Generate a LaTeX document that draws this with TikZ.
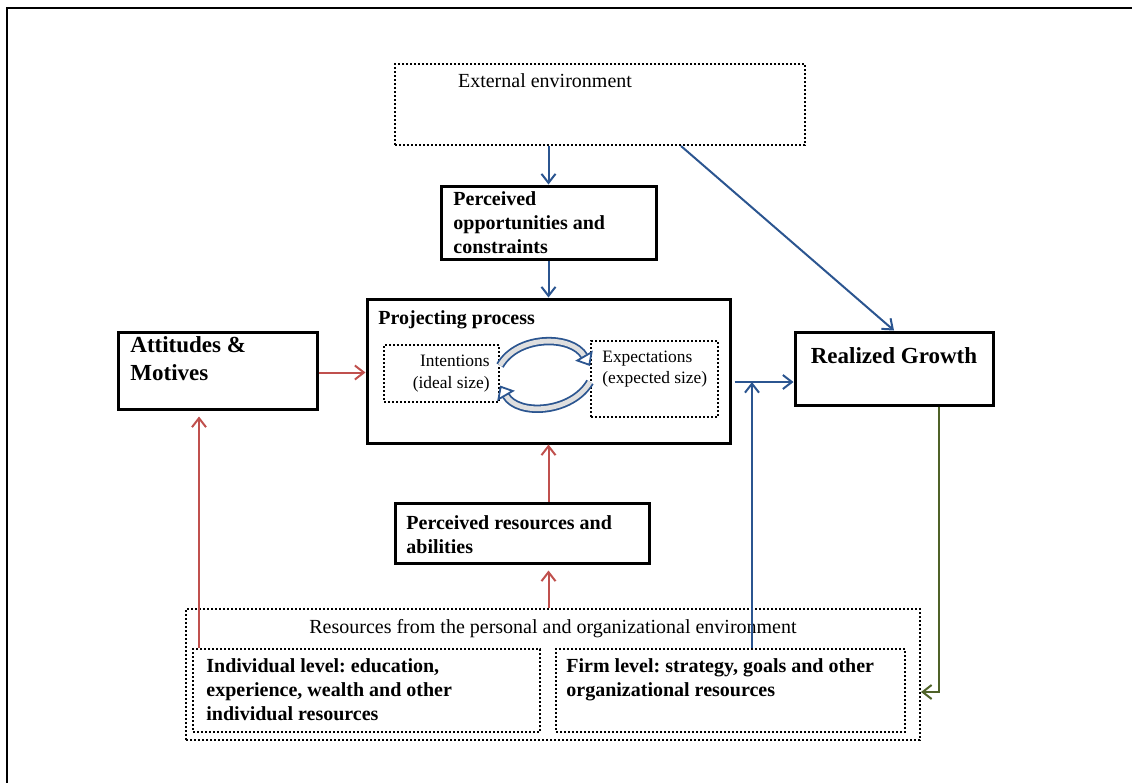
\documentclass[tikz,border=0pt]{standalone}
\usepackage{fontspec}
\setmainfont{Liberation Serif}
\frenchspacing
\usetikzlibrary{positioning,arrows.meta,fit,calc}
\definecolor{arrowblue}{HTML}{2B5590}
\definecolor{arrowred}{HTML}{C0504D}
\definecolor{arrowgreen}{HTML}{4F6228}
\tikzset{
  solidbox/.style={draw, line width=1.5pt, inner sep=0pt},
  dotbox/.style={draw, line width=1pt, dash pattern=on 1pt off 1pt, inner sep=0pt},
  plaintxt/.style={font=\fontsize{10}{12}\selectfont, inner sep=0pt},
  boldtxt/.style={font=\fontsize{10}{12}\selectfont\bfseries, align=left, inner sep=0pt},
  bigtxt/.style={font=\fontsize{11.5}{14}\selectfont\bfseries, align=left, inner sep=0pt},
  smalltxt/.style={font=\fontsize{8.7}{10.5}\selectfont, align=left, inner sep=0pt},
  bluearrow/.style={-{Straight Barb[length=4.5pt, width=7pt]}, line width=1pt, arrowblue},
  redarrow/.style={-{Straight Barb[length=4.5pt, width=7pt]}, line width=1pt, arrowred},
  greenarrow/.style={-{Straight Barb[length=4.5pt, width=7pt]}, line width=1pt, arrowgreen},
  cyclearrow/.style={-{Triangle[length=6pt, width=10pt, open]}, line width=0.9pt, arrowblue, double=gray!25, double distance=2.4pt}
}

\begin{document}
\begin{tikzpicture}[x=0.5pt, y=-0.5pt]
  \useasboundingbox (0,0) rectangle (1132,783);
  \draw[line width=1.25pt] (7,783) -- (7,8) -- (1132,8);

  % top: environment and opportunities
  \node[dotbox, fit={(395,64) (805,145)}] (ext) {};
  \node[plaintxt] (ext-t) at (545,81) {External environment};
  \node[solidbox, fit={(441,186) (656,259)}] (po) {};
  \node[boldtxt, anchor=north west] (po-t) at (453,191) {Perceived\\opportunities and\\constraints};

  % projecting process
  \node[solidbox, fit={(367,299) (730,443)}] (proj) {};
  \node[boldtxt, anchor=base west] (proj-t) at (378,324) {Projecting process};
  \node[dotbox, fit={(384,345) (499,402)}] (int) {};
  \node[smalltxt, font=\fontsize{8.7}{11}\selectfont, align=right, anchor=north east] (int-t) at (490,355) {Intentions\\(ideal size)};
  \node[dotbox, fit={(591,341) (718,417)}] (exp) {};
  \node[smalltxt, anchor=north west] (exp-t) at (602,351) {Expectations\\(expected size)};
  \draw[cyclearrow] ([yshift=4pt]int.east) .. controls +(18,-31) and +(-18,-31) .. ([yshift=6.5pt]exp.west);
  \draw[cyclearrow] ([yshift=-1.5pt]exp.west) .. controls +(-18,31) and +(18,31) .. ([yshift=-6pt]int.east);

  % side boxes
  \node[solidbox, fit={(118,332) (317,409)}] (att) {};
  \node[bigtxt, anchor=north west] (att-t) at (130,336) {Attitudes \&\\Motives};
  \node[solidbox, fit={(795,332) (993,405)}] (rg) {};
  \node[bigtxt, anchor=base] (rg-t) at (894,363) {Realized Growth};

  % resources
  \node[solidbox, fit={(395,503) (649,563)}] (pr) {};
  \node[boldtxt, anchor=north west] (pr-t) at (406,515) {Perceived resources and\\abilities};
  \node[dotbox, fit={(186,609) (920,740)}] (res) {};
  \node[plaintxt, anchor=base] (res-t) at (553,633) {Resources from the personal and organizational environment};
  \node[dotbox, fit={(193,649) (540,732)}] (ind) {};
  \node[boldtxt, anchor=north west] (ind-t) at (206,658) {Individual level: education,\\experience, wealth and other\\individual resources};
  \node[dotbox, fit={(556,649) (905,732)}] (firm) {};
  \node[boldtxt, anchor=north west] (firm-t) at (566,658) {Firm level: strategy, goals and other\\organizational resources};

  \coordinate (jn) at (752,382);
  \coordinate (gd) at (939,692);

  \draw[bluearrow] (po.north |- ext.south) -- (po.north);
  \draw[bluearrow] (po.south) -- (proj.north);
  \draw[bluearrow] ([xshift=40.5pt]ext.south) -- (rg.north);
  \draw[bluearrow, shorten <=1.5pt] (proj.east |- jn) -- (jn -| rg.west);
  \draw[bluearrow] (firm.north -| jn) -- (jn);
  \draw[redarrow] ([yshift=-1pt]att.east) -- ([yshift=-1pt]att.east -| proj.west);
  \draw[redarrow] (proj.south |- pr.north) -- (proj.south);
  \draw[redarrow, shorten >=3pt] (proj.south |- res.north) -- (proj.south |- pr.south);
  \draw[redarrow, shorten >=3pt] ([xshift=3.5pt]ind.north west) -- ([xshift=3.5pt]ind.north west |- att.south);
  \draw[greenarrow] (rg.south -| gd) -- (gd) -- (gd -| res.east);
\end{tikzpicture}
\end{document}
